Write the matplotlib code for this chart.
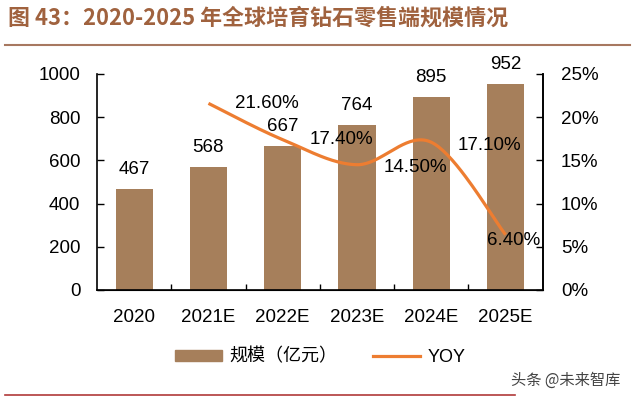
import numpy as np
import matplotlib.pyplot as plt
from matplotlib.patches import Patch
from matplotlib.lines import Line2D

plt.rcParams['font.family'] = ['Liberation Sans', 'Noto Sans CJK SC', 'DejaVu Sans']

# 数据
years = ['2020', '2021E', '2022E', '2023E', '2024E', '2025E']
scale = [467, 568, 667, 764, 895, 952]          # 规模（亿元）
yoy_years = ['2021E', '2022E', '2023E', '2024E', '2025E']
yoy = [21.6, 17.4, 14.5, 17.1, 6.4]             # YOY, %

bar_color = '#A67F5B'
line_color = '#ED7D31'


# 平滑曲线（类似 Excel 的“平滑线”）
def smooth(x, y, n=40):
    x = np.asarray(x, float)
    y = np.asarray(y, float)
    px = np.concatenate([[x[0]], x, [x[-1]]])
    py = np.concatenate([[y[0]], y, [y[-1]]])
    xs, ys = [], []
    t = np.linspace(0, 1, n)
    for i in range(1, len(px) - 2):
        p0, p1, p2, p3 = (np.array([px[j], py[j]]) for j in range(i - 1, i + 3))
        c1 = p1 + (p2 - p0) / 6
        c2 = p2 - (p3 - p1) / 6
        pts = ((1 - t) ** 3)[:, None] * p1 + (3 * (1 - t) ** 2 * t)[:, None] * c1 \
            + (3 * (1 - t) * t ** 2)[:, None] * c2 + (t ** 3)[:, None] * p2
        xs.extend(pts[:, 0])
        ys.extend(pts[:, 1])
    return np.array(xs), np.array(ys)


fig = plt.figure(figsize=(6.4, 4.03), dpi=100)
ax = fig.add_axes([0.1516, 0.2804, 0.6964, 0.536])

x = np.arange(len(years))
ax.bar(x, scale, width=0.5, color=bar_color, zorder=2)
for xi, v in zip(x, scale):
    ax.annotate(str(v), (xi, v), xytext=(0, 8), textcoords='offset points',
                ha='center', va='bottom', fontsize=13.5)

ax.set_xlim(-0.5, len(years) - 0.5)
ax.set_ylim(0, 1000)
ax.set_yticks(range(0, 1001, 200))
ax.set_xticks(x)
ax.set_xticklabels(years)
ax.set_xticks(np.arange(0.5, len(years) - 1), minor=True)
ax.tick_params(axis='x', which='major', length=0, pad=14, labelsize=13.5)
ax.tick_params(axis='x', which='minor', direction='in', length=4, width=1)
ax.tick_params(axis='y', direction='in', length=5, width=1, pad=12, labelsize=13.5)
ax.spines['top'].set_visible(False)
for s in ('left', 'bottom', 'right'):
    ax.spines[s].set_linewidth(1.2)

ax2 = ax.twinx()
xi = [years.index(y) for y in yoy_years]
sx, sy = smooth(xi, yoy)
ax2.plot(sx, sy, color=line_color, lw=2.3, solid_capstyle='butt', zorder=3)
ax2.set_ylim(0, 25)
ax2.set_yticks(range(0, 26, 5))
ax2.set_yticklabels([f'{v}%' for v in range(0, 26, 5)])
ax2.tick_params(axis='y', direction='in', length=5, width=1, pad=13, labelsize=13.5)
ax2.spines['top'].set_visible(False)
ax2.spines['right'].set_linewidth(1.2)
ax2.spines['left'].set_visible(False)

offsets = [(42, 0), (42, 0), (42, -2), (42, -2), (6, -4)]
for xv, v, off in zip(xi, yoy, offsets):
    ax2.annotate(f'{v:.2f}%', (xv, v), xytext=off, textcoords='offset points',
                 ha='center', va='center', fontsize=13.5, zorder=4)

# 标题
fig.text(0.013, 0.955, '图 43：2020-2025 年全球培育钻石零售端规模情况',
         fontsize=15.8, fontweight='bold', color='#A0623E',
         family=['Noto Sans CJK SC', 'DejaVu Sans'], va='center', ha='left')
fig.add_artist(Line2D([0.008, 0.985], [0.888, 0.888], color='#A77860', lw=1.5))

# 图例
handles = [Patch(color=bar_color, label='规模（亿元）'),
           Line2D([], [], color=line_color, lw=2.3, label='YOY')]
fig.legend(handles=handles, loc='center', bbox_to_anchor=(0.5, 0.114), ncol=2,
           frameon=False, handlelength=2.6, handleheight=0.55,
           handletextpad=0.4, columnspacing=2.0,
           prop={'family': ['Liberation Sans', 'Noto Sans CJK SC'], 'size': 13})

# 水印
fig.text(0.97, 0.057, '头条 @未来智库', fontsize=11, color='#444444',
         family=['Noto Sans CJK SC', 'DejaVu Sans'], ha='right', va='center')
fig.add_artist(Line2D([0.008, 0.805], [0.02, 0.02], color='#B03A3A', lw=1.2))

fig.savefig('out.png', dpi=100)
